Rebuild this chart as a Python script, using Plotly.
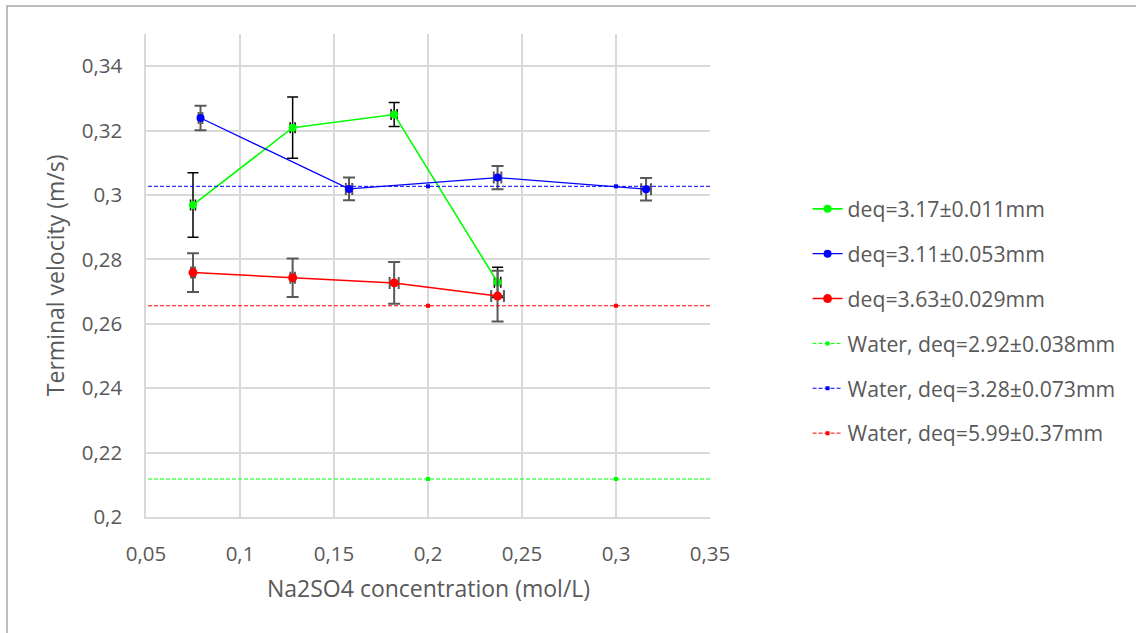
import plotly.graph_objects as go

# Bubble terminal velocity in Na2SO4 solutions
green_x = [0.075, 0.128, 0.182, 0.237]
green_y = [0.2969, 0.3209, 0.3250, 0.2729]
green_yerr = [0.0100, 0.0095, 0.0037, 0.0047]
green_xerr = [0.0013, 0.0013, 0.0016, 0.0017]

blue_x = [0.079, 0.158, 0.237, 0.316]
blue_y = [0.3239, 0.3019, 0.3054, 0.3018]
blue_yerr = [0.0038, 0.0035, 0.0036, 0.0035]
blue_xerr = [0.0010, 0.0017, 0.0020, 0.0026]

red_x = [0.075, 0.128, 0.182, 0.237]
red_y = [0.2759, 0.2743, 0.2727, 0.2686]
red_yerr = [0.0060, 0.0060, 0.0065, 0.0079]
red_xerr = [0.0010, 0.0012, 0.0024, 0.0034]

# Pure-water reference velocities
water_x = [0.0, 0.2, 0.3, 0.4]
water_green = 0.2118
water_blue = 0.3027
water_red = 0.2656

series_names = [
    "deq=3.17±0.011mm",
    "deq=3.11±0.053mm",
    "deq=3.63±0.029mm",
    "Water, deq=2.92±0.038mm",
    "Water, deq=3.28±0.073mm",
    "Water, deq=5.99±0.37mm",
]

x_ticks = [0.05, 0.10, 0.15, 0.20, 0.25, 0.30, 0.35]
x_ticktext = ["0,05", "0,1", "0,15", "0,2", "0,25", "0,3", "0,35"]
y_ticks = [0.20, 0.22, 0.24, 0.26, 0.28, 0.30, 0.32, 0.34]
y_ticktext = ["0,2", "0,22", "0,24", "0,26", "0,28", "0,3", "0,32", "0,34"]

GREEN = "#00ff00"
BLUE = "#0000ff"
RED = "#ff0000"
ERR_GRAY = "#595959"
TEXT = "#595959"
GRID = "#d9d9d9"
FONT = "Open Sans"
FS_TICK = 20.5
FS_LEGEND = 21.2
FS_TITLE = 23

fig = go.Figure()


def err(values, color, thick, w):
    return dict(type="data", array=values, visible=True, color=color,
                thickness=thick, width=w)


fig.add_trace(go.Scatter(
    x=green_x, y=green_y, name=series_names[0], legendgroup="g1",
    mode="lines+markers",
    line=dict(color=GREEN, width=1.6),
    marker=dict(color=GREEN, size=8, symbol="circle"),
    error_y=err(green_yerr, "#000000", 1.5, 5.5),
    error_x=err(green_xerr, "#000000", 1.5, 5.5),
))
fig.add_trace(go.Scatter(
    x=blue_x, y=blue_y, name=series_names[1], legendgroup="g2",
    mode="lines+markers",
    line=dict(color=BLUE, width=1.25),
    marker=dict(color=BLUE, size=8, symbol="circle"),
    error_y=err(blue_yerr, ERR_GRAY, 2, 6),
    error_x=err(blue_xerr, ERR_GRAY, 2, 6),
))
fig.add_trace(go.Scatter(
    x=red_x, y=red_y, name=series_names[2], legendgroup="g3",
    mode="lines+markers",
    line=dict(color=RED, width=1.5),
    marker=dict(color=RED, size=9, symbol="circle"),
    error_y=err(red_yerr, ERR_GRAY, 2, 6),
    error_x=err(red_xerr, ERR_GRAY, 2, 6),
))

for i, (yv, col) in enumerate([(water_green, GREEN), (water_blue, BLUE), (water_red, RED)]):
    fig.add_trace(go.Scatter(
        x=water_x, y=[yv] * len(water_x), name=series_names[3 + i],
        legendgroup="w%d" % i, mode="lines+markers",
        line=dict(color=col, width=1, dash="4px,2px"),
        marker=dict(color=col, size=4, symbol="square"),
    ))

# Chart-area frame
fig.add_shape(type="rect", xref="paper", yref="paper",
              x0=-0.2465, x1=1.9, y0=-0.35, y1=1.058,
              line=dict(color="#a6a6a6", width=1.5), layer="below")

fig.add_annotation(text="Terminal velocity (m/s)", xref="paper", yref="paper",
                   x=-0.162, y=0.5, textangle=-90, showarrow=False,
                   xanchor="center", yanchor="middle",
                   font=dict(family=FONT, size=FS_TITLE, color=TEXT))
fig.add_annotation(text="Na2SO4 concentration (mol/L)", xref="paper", yref="paper",
                   x=0.5, y=-0.147, showarrow=False,
                   xanchor="center", yanchor="middle",
                   font=dict(family=FONT, size=FS_TITLE, color=TEXT))

fig.update_layout(
    width=1136, height=633,
    margin=dict(l=146, r=426, t=34, b=116, autoexpand=False),
    paper_bgcolor="white", plot_bgcolor="white",
    font=dict(family=FONT, size=FS_TICK, color=TEXT),
    showlegend=True,
    legend=dict(x=1.173, xanchor="left", y=0.68, yanchor="top",
                traceorder="grouped", tracegroupgap=14.3,
                bgcolor="rgba(0,0,0,0)",
                font=dict(family=FONT, size=FS_LEGEND, color=TEXT)),
)

fig.update_xaxes(range=[0.05, 0.35], tickmode="array", tickvals=x_ticks,
                 ticktext=x_ticktext, showgrid=True, gridcolor=GRID, gridwidth=1.5,
                 zeroline=False, showline=True, linecolor=GRID, linewidth=1.5,
                 ticks="", ticklabelstandoff=18, automargin=False,
                 tickfont=dict(family=FONT, size=FS_TICK, color=TEXT))
fig.update_yaxes(range=[0.2, 0.35], tickmode="array", tickvals=y_ticks,
                 ticktext=y_ticktext, showgrid=True, gridcolor=GRID, gridwidth=1.5,
                 zeroline=False, showline=True, linecolor=GRID, linewidth=1.5,
                 ticks="", ticklabelstandoff=18, automargin=False,
                 tickfont=dict(family=FONT, size=FS_TICK, color=TEXT))

fig.write_html("out.html")
